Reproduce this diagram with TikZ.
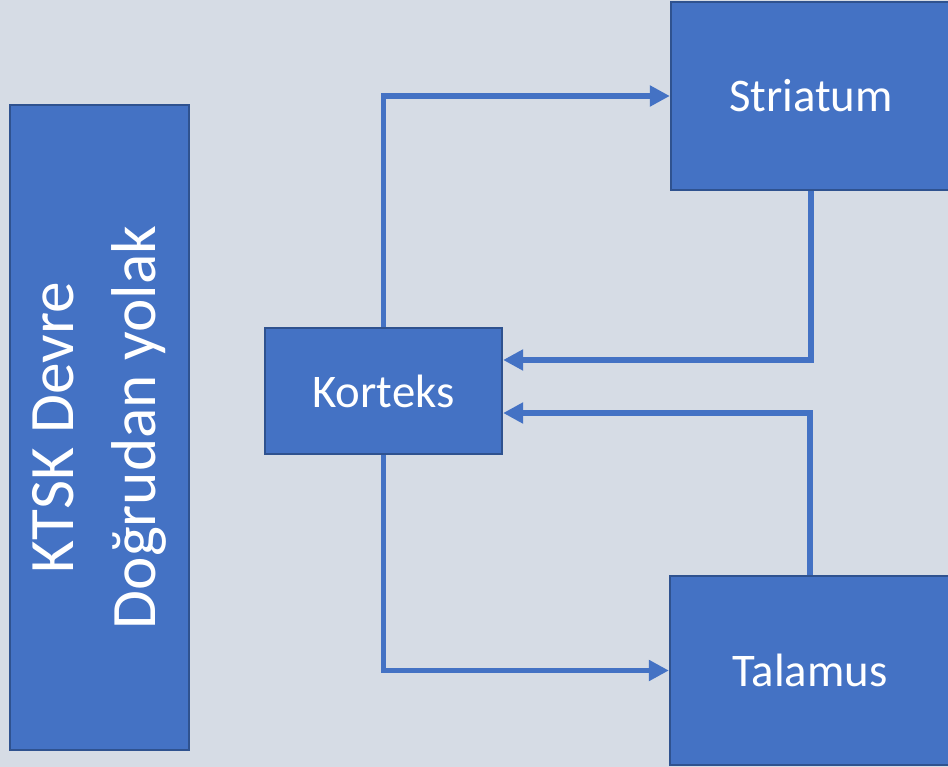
\documentclass[tikz,border=0pt]{standalone}
\usepackage{fontspec}
\setmainfont{Carlito}
\usetikzlibrary{arrows.meta}
\definecolor{pagebg}{HTML}{D6DCE5}
\definecolor{boxfill}{HTML}{4472C4}
\definecolor{boxedge}{HTML}{2F528F}
\tikzset{
  blockbox/.style={draw=boxedge, line width=0.6pt, fill=boxfill, text=white,
    rectangle, inner sep=0pt, align=center},
  flow/.style={draw=boxfill, line width=1.7pt, line join=miter,
    -{Triangle[length=5.7pt,width=5.7pt]}},
}
\begin{document}
\begin{tikzpicture}[x=0.01cm, y=-0.01cm]
  % page and background
  \useasboundingbox (0,0) rectangle (948,767);
  \clip (0,0) rectangle (948,767);
  \fill[pagebg] (0,0) rectangle (948,767);

  % blocks
  \node[blockbox, minimum width=1.79cm, minimum height=6.45cm,
        font=\fontsize{18}{21.5}\selectfont]
    (title) at (99.5,427.5) {\rotatebox{90}{\begin{tabular}{c}KTSK Devre\\[2pt] Doğrudan yolak\end{tabular}}};
  \node[blockbox, minimum width=2.37cm, minimum height=1.26cm,
        font=\fontsize{13.3}{16}\selectfont]
    (korteks) at (383.5,391) {Korteks};
  \node[blockbox, minimum width=2.80cm, minimum height=1.88cm,
        font=\fontsize{13.3}{16}\selectfont]
    (striatum) at (811,96) {Striatum};
  \node[blockbox, minimum width=2.80cm, minimum height=1.89cm,
        font=\fontsize{13.3}{16}\selectfont]
    (talamus) at (810,670.5) {Talamus};

  % connectors
  \draw[flow] (korteks.north) |- (striatum.west);
  \draw[flow] (striatum.south) |- ([yshift=0.31cm]korteks.east);
  \draw[flow] (talamus.north) |- ([yshift=-0.22cm]korteks.east);
  \draw[flow] (korteks.south) |- (talamus.west);
\end{tikzpicture}
\end{document}
